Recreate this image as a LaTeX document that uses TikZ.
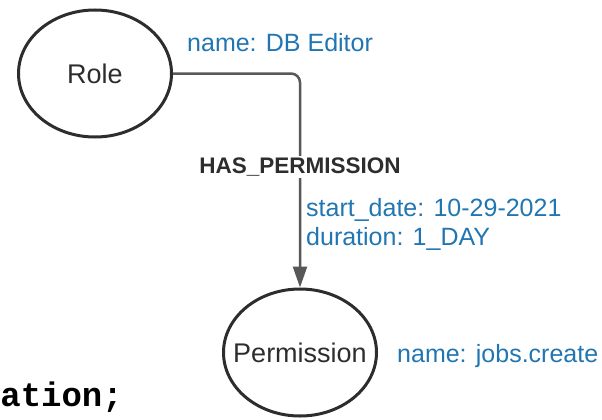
\documentclass[tikz,border=0pt]{standalone}
\usepackage{fontspec}
\setmainfont{Liberation Sans}
\newfontfamily\codefont{Liberation Mono}
\usetikzlibrary{shapes.geometric,arrows.meta}
\definecolor{propblue}{RGB}{33,118,178}
\definecolor{inkdark}{RGB}{45,45,45}
\definecolor{edgegray}{RGB}{88,88,88}
\begin{document}
\begin{tikzpicture}[x=1pt,y=-1pt,
  entity/.style={ellipse, draw=inkdark, line width=3pt, minimum width=153pt,
    minimum height=127pt, inner sep=0pt},
  entitylabel/.style={inner sep=0pt, text=inkdark,
    font=\fontsize{27}{30}\selectfont},
  prop/.style={text=propblue, inner sep=0pt,
    font=\fontsize{25}{29}\selectfont},
  rel/.style={draw=edgegray, line width=2.5pt, rounded corners=9pt,
    -{Triangle[length=21pt,width=14pt]}},
  rellabel/.style={fill=white, text=inkdark, inner sep=2pt,
    font=\bfseries\fontsize{22.5}{25}\selectfont}]
\useasboundingbox (0,0) rectangle (602,420);

% graph nodes
\node[entity] (role) at (95,73.5) {};
\node[entitylabel] (rolelabel) at (role.center) {Role};
\node[entity] (perm) at (300,352.5) {};
\node[entitylabel] (permlabel) at (perm.center) {Permission};

% properties
\node[prop, anchor=base west] (rolename) at (187,52) {name: DB Editor};
\node[prop, anchor=base west] (permname) at (397,362) {name: jobs.create};
\node[prop, anchor=base west] (relprop1) at (306,216.5) {start\_date: 10-29-2021};
\node[prop, anchor=base west] (relprop2) at (306,245) {duration: 1\_DAY};

% relationship
\coordinate (bend) at (perm.north |- role.east);
\draw[rel] (role.east) -- (bend) -- (perm.north);
\node[rellabel] (relname) at (300,167) {HAS\_PERMISSION};

% cut-off query text
\node[inner sep=0pt, anchor=base east, text=black,
  font=\codefont\bfseries\fontsize{34}{36}\selectfont] (query) at (123,406) {ation;};
\end{tikzpicture}
\end{document}
